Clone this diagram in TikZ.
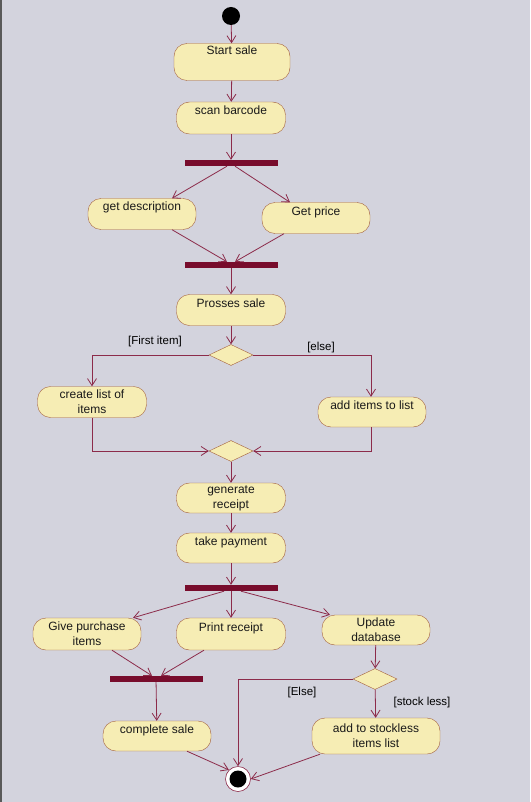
\documentclass[tikz,border=0pt]{standalone}
\usepackage{fontspec}
\setmainfont{Liberation Sans}
\usepackage{tikz}
\usetikzlibrary{calc, arrows.meta, shapes.geometric}
\usepackage{xcolor}
\definecolor{bgcol}{HTML}{D3D3DD}
\definecolor{actfill}{HTML}{F6EDB4}
\definecolor{actline}{HTML}{A35F3C}
\definecolor{flowcol}{HTML}{8C2B4A}
\definecolor{barcol}{HTML}{780C2C}

\begin{document}
\begin{tikzpicture}[x=1pt, y=-1pt,
    act/.style={draw=actline, fill=actfill, rounded corners=13pt, inner sep=2pt, align=center,
        minimum width=108pt, minimum height=31pt, text=black!90, font=\fontsize{12}{15}\selectfont},
    acttop/.style={act, text height=8.8pt, text depth=14.8pt},
    bar/.style={fill=barcol, minimum width=93pt, minimum height=6pt, inner sep=0pt},
    decide/.style={draw=actline, fill=actfill, diamond, minimum width=44pt, minimum height=21pt, inner sep=0pt},
    guard/.style={font=\fontsize{11.5}{13}\selectfont},
    flow/.style={draw=flowcol, line width=0.8pt, -{Straight Barb[length=7pt, width=9pt]}}]

    \fill[bgcol] (0, 0) rectangle (530, 802);
    \fill[black!65] (0, 0) rectangle (1.5, 802);

    \node[circle, fill=black, minimum size=18pt, inner sep=0pt] (start) at (231, 16) {};
    \node[acttop, minimum width=116pt, minimum height=37pt, text depth=23.8pt] (startsale) at (232, 62) {Start sale};
    \node[acttop, minimum width=109pt, minimum height=32pt] (scan) at (231, 118) {scan barcode};
    \node[bar] (forka) at (231, 163) {};
    \node[acttop] (desc) at (142, 214) {get description};
    \node[acttop] (price) at (316, 218) {Get price};
    \node[bar] (joina) at (231, 265) {};
    \node[acttop, minimum width=109pt] (process) at (231, 310) {Prosses sale};
    \node[decide] (deca) at (231, 355) {};
    \node[act, minimum width=109pt] (create) at (92, 402) {create list of\\items};
    \node[acttop, minimum height=30pt] (additems) at (372, 412) {add items to list};
    \node[decide] (merge) at (231, 451) {};
    \node[act, minimum width=109pt, minimum height=30pt] (receipt) at (231, 498) {generate\\receipt};
    \node[acttop, minimum width=109pt, minimum height=30pt] (payment) at (231, 548) {take payment};
    \node[bar] (forkb) at (231, 588) {};
    \node[act, minimum height=32pt] (give) at (87, 634) {Give purchase\\items};
    \node[acttop, minimum width=109pt, minimum height=32pt] (print) at (231, 634) {Print receipt};
    \node[act, minimum height=30pt] (update) at (376, 630) {Update\\database};
    \node[bar] (joinb) at (156, 679) {};
    \node[decide] (decb) at (375, 679) {};
    \node[acttop, minimum height=30pt] (complete) at (157, 736) {complete sale};
    \node[act, minimum width=128pt, minimum height=36pt] (stockless) at (376, 736) {add to stockless\\items list};
    \node[circle, draw=flowcol, fill=white, line width=0.6pt, minimum size=25pt, inner sep=0pt] (end) at (238, 779) {};
    \node[circle, fill=black, minimum size=17pt, inner sep=0pt] (endin) at (238, 779) {};

    \node[guard] (gfirst) at (155, 342) {[First item]};
    \node[guard] (gelse) at (321, 348) {[else]};
    \node[guard] (gElse) at (302, 693) {[Else]};
    \node[guard] (gstock) at (422, 703) {[stock less]};

    \draw[flow] (start) -- (startsale);
    \draw[flow] (startsale) -- (scan);
    \draw[flow] (scan) -- (forka);
    \draw[flow] ([xshift=-4pt]forka.south) -- ([xshift=30pt]desc.north);
    \draw[flow] ([xshift=4pt]forka.south) -- ([xshift=-26pt]price.north);
    \draw[flow] ([xshift=30pt]desc.south) -- ([xshift=-4pt]joina.north);
    \draw[flow] ([xshift=-32pt]price.south) -- ([xshift=4pt]joina.north);
    \draw[flow] (joina) -- (process);
    \draw[flow] (process) -- (deca);
    \draw[flow] (deca.west) -| (create.north);
    \draw[flow] (deca.east) -| ([xshift=-1pt]additems.north);
    \draw[flow] (create.south) |- (merge.west);
    \draw[flow] ([xshift=-1pt]additems.south) |- (merge.east);
    \draw[flow] (merge) -- (receipt);
    \draw[flow] (receipt) -- (payment);
    \draw[flow] (payment) -- (forkb);
    \draw[flow] ([xshift=-7pt]forkb.south) -- ([xshift=46pt]give.north);
    \draw[flow] (forkb) -- (print);
    \draw[flow] ([xshift=10pt]forkb.south) -- ([xshift=-46pt]update.north);
    \draw[flow] ([xshift=25pt]give.south) -- ([xshift=-4pt]joinb.north);
    \draw[flow] ([xshift=-27pt]print.south) -- ([xshift=5pt]joinb.north);
    \draw[flow] (joinb) -- (complete);
    \draw[flow] (update) -- (decb);
    \draw[flow] (decb) -- (stockless);
    \draw[flow] (decb.west) -| (end.north);
    \draw[flow] ([xshift=30pt]complete.south) -- (end.north west);
    \draw[flow] ([xshift=-56pt]stockless.south) -- (end.east);
\end{tikzpicture}
\end{document}
